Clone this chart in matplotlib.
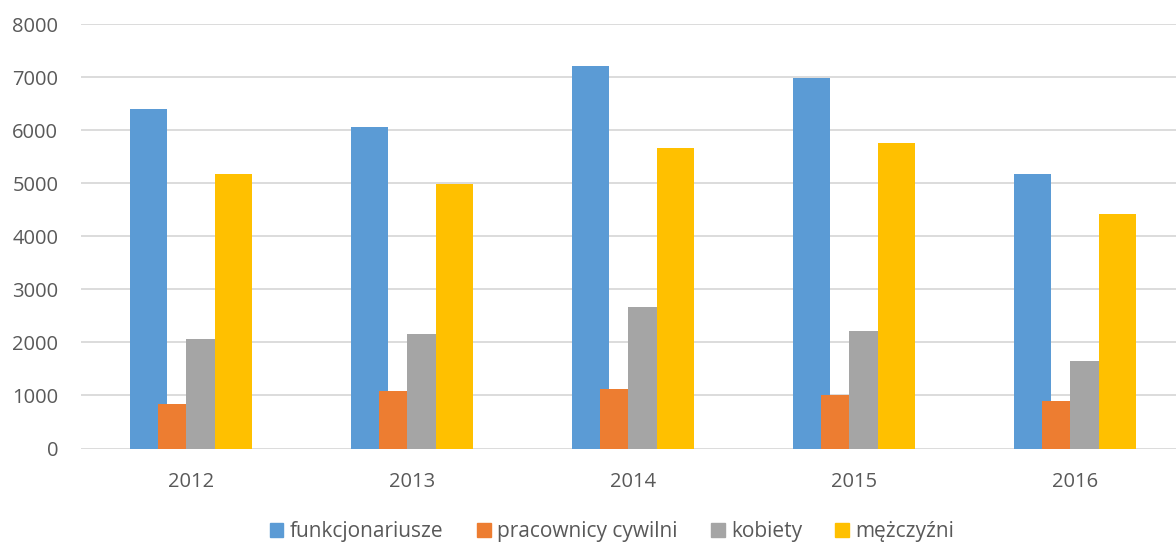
import numpy as np
import matplotlib
matplotlib.use("Agg")
from matplotlib import pyplot as plt
from matplotlib.patches import Patch

years = ["2012", "2013", "2014", "2015", "2016"]
funkcjonariusze = [6400, 6060, 7210, 6985, 5180]
pracownicy_cywilni = [840, 1090, 1130, 1000, 890]
kobiety = [2065, 2165, 2670, 2220, 1650]
mezczyzni = [5180, 4990, 5665, 5760, 4420]

labels = ["funkcjonariusze", "pracownicy cywilni", "kobiety", "mężczyźni"]
colors = ["#5B9BD5", "#ED7D31", "#A5A5A5", "#FFC000"]
series = [funkcjonariusze, pracownicy_cywilni, kobiety, mezczyzni]

plt.rcParams['font.family'] = ['Open Sans', 'DejaVu Sans']

fig = plt.figure(figsize=(11.76, 5.44), dpi=100)
ax = fig.add_axes([80.5/1176, 95.5/544, 1105/1176, 424.2/544])

x = np.arange(len(years))
w = 0.1706
step = 0.128
for i, (vals, c) in enumerate(zip(series, colors)):
    ax.bar(x + (i - 1.5)*step, vals, width=w, color=c, zorder=2+i)

ax.set_xlim(-0.5, len(years) - 0.5)
ax.set_ylim(0, 8000)
ax.set_yticks(range(0, 8001, 1000))
ax.set_xticks(x)
ax.set_xticklabels(years)
ax.yaxis.grid(True, color="#D9D9D9", linewidth=1.3, zorder=0)
ax.set_axisbelow(True)
for s in ax.spines.values():
    s.set_visible(False)
ax.tick_params(length=0, labelsize=14.5, colors="#595959")
ax.tick_params(axis='y', pad=16)
ax.tick_params(axis='x', pad=17)

handles = [Patch(color=c, label=l) for c, l in zip(colors, labels)]
fig.legend(handles=handles, loc="center", bbox_to_anchor=(612/1176, 1 - 532/544),
           ncol=4, frameon=False, fontsize=15, labelcolor="#595959",
           handlelength=0.67, handleheight=0.67, handletextpad=0.3, columnspacing=1.6)

fig.savefig("out.png", dpi=100)
